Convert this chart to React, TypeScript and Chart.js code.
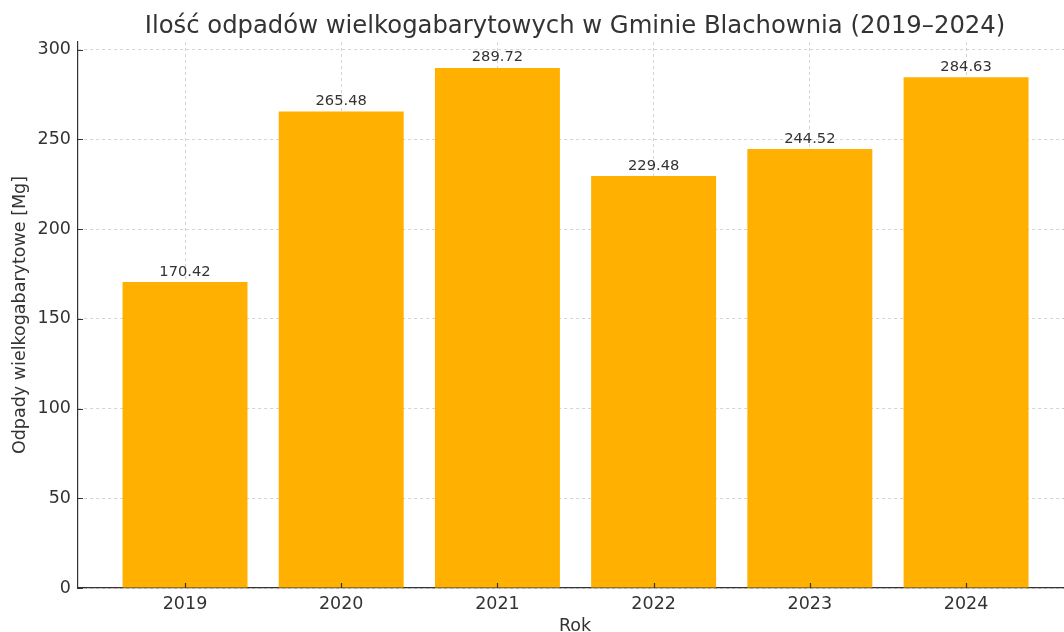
import React, { useEffect, useRef } from "react";
import { Chart, registerables } from "chart.js";

Chart.register(...registerables);

const title = "Ilość odpadów wielkogabarytowych w Gminie Blachownia (2019–2024)";
const years = ["2019", "2020", "2021", "2022", "2023", "2024"];
const values = [170.42, 265.48, 289.72, 229.48, 244.52, 284.63];
const yTicks = [0, 50, 100, 150, 200, 250, 300];
const xAxisLabel = "Rok";
const yAxisLabel = "Odpady wielkogabarytowe [Mg]";

const FONT = "'DejaVu Sans', sans-serif";
const TEXT = "#333333";
const BAR = "#FFB000";
const GRID = "#c8c8c8";

export default function App() {
  const ref = useRef<HTMLCanvasElement | null>(null);

  useEffect(() => {
    if (!ref.current) return;

    const overlay = {
      id: "overlay",
      afterDatasetsDraw(chart: any) {
        const ctx = chart.ctx;
        const meta = chart.getDatasetMeta(0);
        ctx.save();
        // value labels
        ctx.fillStyle = TEXT;
        ctx.font = `14.7px ${FONT}`;
        ctx.textAlign = "center";
        ctx.textBaseline = "bottom";
        meta.data.forEach((bar: any, i: number) => {
          ctx.fillText(values[i].toFixed(2), bar.x, bar.y - 3);
        });
        // inward tick marks
        const xs = chart.scales.x;
        const ys = chart.scales.y;
        const area = chart.chartArea;
        ctx.strokeStyle = TEXT;
        ctx.lineWidth = 1.2;
        ctx.beginPath();
        years.forEach((_, i) => {
          const px = Math.round(xs.getPixelForValue(i)) + 0.5;
          ctx.moveTo(px, area.bottom);
          ctx.lineTo(px, area.bottom - 5);
        });
        yTicks.forEach((v) => {
          const py = Math.round(ys.getPixelForValue(v)) + 0.5;
          ctx.moveTo(area.left, py);
          ctx.lineTo(area.left + 5, py);
        });
        ctx.stroke();
        // title
        ctx.font = `24.3px ${FONT}`;
        ctx.textBaseline = "alphabetic";
        ctx.fillText(title, 575, 33);
        // x-axis title
        ctx.font = `17.5px ${FONT}`;
        ctx.fillText(xAxisLabel, 575, 631);
        ctx.restore();
      },
    };

    const chart = new Chart(ref.current, {
      type: "bar",
      data: {
        datasets: [
          {
            data: values.map((v, i) => ({ x: i, y: v })),
            backgroundColor: BAR,
            borderWidth: 0,
            barPercentage: 0.8,
            categoryPercentage: 1,
          },
        ],
      },
      options: {
        responsive: false,
        animation: false,
        layout: { padding: { top: 42, right: 0, left: 0, bottom: 0 } },
        plugins: {
          legend: { display: false },
          tooltip: { enabled: false },
          title: { display: false },
        },
        scales: {
          x: {
            type: "linear",
            min: -0.685,
            max: 5.627,
            offset: false,
            z: 1,
            afterBuildTicks: (scale: any) => {
              scale.ticks = years.map((_, i) => ({ value: i }));
            },
            afterFit: (scale: any) => {
              scale.height = 44;
            },
            ticks: {
              callback: (v: any) => years[Math.round(v)] ?? "",
              color: TEXT,
              font: { family: FONT, size: 17.5 },
              padding: 6,
              maxRotation: 0,
              autoSkip: false,
            },
            grid: {
              color: GRID,
              lineWidth: 0.8,
              offset: false,
              drawTicks: false,
            },
            border: { display: true, color: TEXT, width: 1.2, dash: [3, 3] },
            title: { display: false },
          },
          y: {
            type: "linear",
            min: 0,
            max: 304.2,
            z: 1,
            afterBuildTicks: (scale: any) => {
              scale.ticks = yTicks.map((v) => ({ value: v }));
            },
            afterFit: (scale: any) => {
              scale.width = 78;
            },
            ticks: {
              color: TEXT,
              font: { family: FONT, size: 17.5 },
              padding: 7,
            },
            grid: {
              color: GRID,
              lineWidth: 0.8,
              drawTicks: false,
            },
            border: { display: true, color: TEXT, width: 1.2, dash: [3, 3] },
            title: {
              display: true,
              text: yAxisLabel,
              color: TEXT,
              font: { family: FONT, size: 17.5, lineHeight: 1 },
              padding: { top: 12, bottom: 0 },
            },
          },
        },
      },
      plugins: [overlay],
    } as any);

    return () => chart.destroy();
  }, []);

  return (
    <div style={{ position: "absolute", left: 0, top: 0, width: 1064, height: 632, background: "#fff" }}>
      <canvas ref={ref} width={1064} height={632} />
    </div>
  );
}
